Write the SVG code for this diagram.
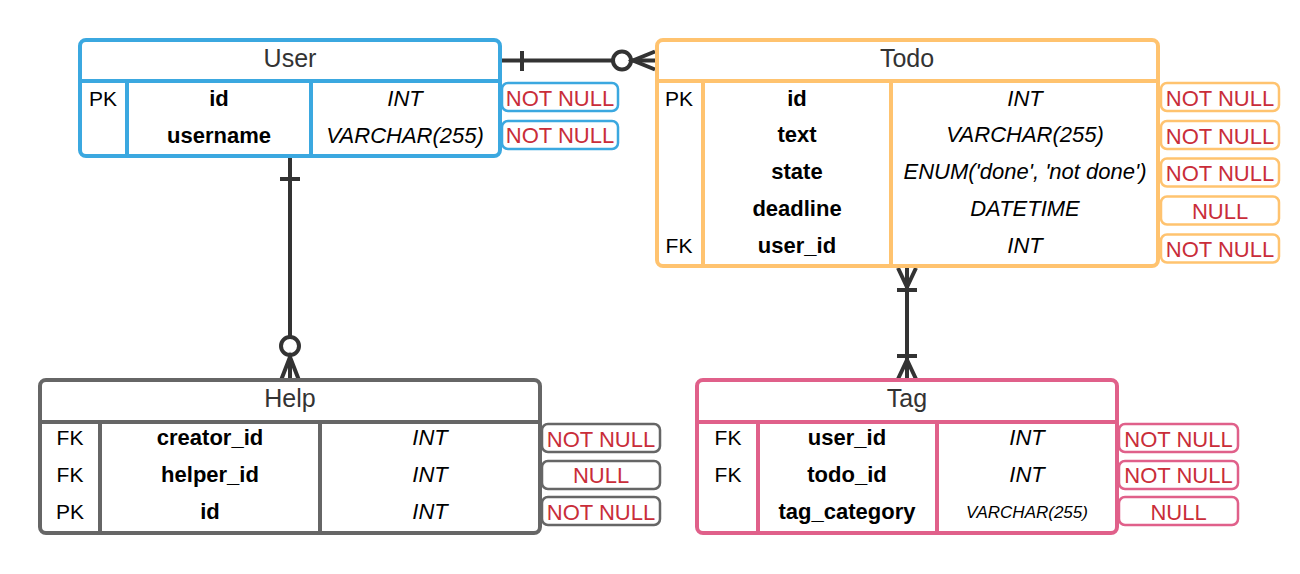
<svg xmlns="http://www.w3.org/2000/svg" width="1300" height="574" viewBox="0 0 1300 574">
<style>
text{font-family:"Liberation Sans",Arial,sans-serif}
.title{font-size:25px;fill:#333;text-anchor:middle}
.key{font-size:21px;fill:#000;text-anchor:middle}
.name{font-size:22px;font-weight:bold;fill:#000;text-anchor:middle}
.type{font-size:22px;font-style:italic;fill:#000;text-anchor:middle}
.small{font-size:17px}
.nn{font-size:22px;fill:#C92D39;text-anchor:middle}
.box{fill:#fff;stroke-width:4}
.div{stroke-width:4;fill:none}
.cbox{fill:#fff;stroke-width:2.5}
.blue{stroke:#3BA8E0}
.orange{stroke:#FFC36F}
.gray{stroke:#666666}
.pink{stroke:#E0608A}
.conn{stroke:#333;stroke-width:4;fill:none}
</style>

<g id="connectors">
  <!-- User - Todo -->
  <line class="conn" x1="502" y1="60.5" x2="656" y2="60.5"/>
  <line class="conn" x1="522" y1="51" x2="522" y2="71"/>
  <circle cx="622" cy="60.5" r="9" fill="#fff" stroke="#333" stroke-width="4"/>
  <path class="conn" d="M655 51.5 L633 60.5 L655 69.5"/>
  <!-- User - Help -->
  <line class="conn" x1="290" y1="157" x2="290" y2="380"/>
  <line class="conn" x1="280" y1="179" x2="300" y2="179"/>
  <circle cx="290" cy="346" r="9" fill="#fff" stroke="#333" stroke-width="4"/>
  <path class="conn" d="M281.5 379 L290 357 L298.5 379"/>
  <!-- Todo - Tag -->
  <line class="conn" x1="907" y1="267" x2="907" y2="380"/>
  <path class="conn" d="M898 268 L907 287 L916 268"/>
  <line class="conn" x1="897" y1="290" x2="917" y2="290"/>
  <line class="conn" x1="897" y1="356" x2="917" y2="356"/>
  <path class="conn" d="M898 379 L907 360 L916 379"/>
</g>

<g id="User">
  <rect class="box blue" x="80" y="40" width="420" height="116" rx="6"/>
  <line class="div blue" x1="80" y1="81" x2="500" y2="81"/>
  <line class="div blue" x1="127" y1="81" x2="127" y2="156"/>
  <line class="div blue" x1="311" y1="81" x2="311" y2="156"/>
  <text class="title" x="290" y="66.5">User</text>
  <text class="key" x="103" y="105.5">PK</text>
  <text class="name" x="219" y="105.5">id</text>
  <text class="type" x="405" y="105.5">INT</text>
  <text class="name" x="219" y="142.5">username</text>
  <text class="type" x="405" y="142.5">VARCHAR(255)</text>
  <rect class="cbox blue" x="502" y="83" width="116" height="28" rx="6"/>
  <text class="nn" x="560" y="106">NOT NULL</text>
  <rect class="cbox blue" x="502" y="121" width="116" height="28" rx="6"/>
  <text class="nn" x="560" y="143">NOT NULL</text>
</g>

<g id="Todo">
  <rect class="box orange" x="657" y="40" width="501" height="226" rx="6"/>
  <line class="div orange" x1="657" y1="81" x2="1158" y2="81"/>
  <line class="div orange" x1="703" y1="81" x2="703" y2="266"/>
  <line class="div orange" x1="891" y1="81" x2="891" y2="266"/>
  <text class="title" x="907" y="66.5">Todo</text>
  <text class="key" x="679" y="105.5">PK</text>
  <text class="name" x="797" y="105.5">id</text>
  <text class="type" x="1025" y="105.5">INT</text>
  <text class="name" x="797" y="142.3">text</text>
  <text class="type" x="1025" y="142.3">VARCHAR(255)</text>
  <text class="name" x="797" y="179.1">state</text>
  <text class="type" x="1025" y="179.1">ENUM('done', 'not done')</text>
  <text class="name" x="797" y="215.9">deadline</text>
  <text class="type" x="1025" y="215.9">DATETIME</text>
  <text class="key" x="679" y="252.7">FK</text>
  <text class="name" x="797" y="252.7">user_id</text>
  <text class="type" x="1025" y="252.7">INT</text>
  <rect class="cbox orange" x="1161" y="83" width="118" height="28" rx="6"/>
  <text class="nn" x="1220" y="106">NOT NULL</text>
  <rect class="cbox orange" x="1161" y="121" width="118" height="28" rx="6"/>
  <text class="nn" x="1220" y="143.5">NOT NULL</text>
  <rect class="cbox orange" x="1161" y="158.5" width="118" height="28" rx="6"/>
  <text class="nn" x="1220" y="181">NOT NULL</text>
  <rect class="cbox orange" x="1161" y="196.5" width="118" height="28" rx="6"/>
  <text class="nn" x="1220" y="218.5">NULL</text>
  <rect class="cbox orange" x="1161" y="234.5" width="118" height="28" rx="6"/>
  <text class="nn" x="1220" y="256.5">NOT NULL</text>
</g>

<g id="Help">
  <rect class="box gray" x="40" y="380" width="500" height="153" rx="6"/>
  <line class="div gray" x1="40" y1="422" x2="540" y2="422"/>
  <line class="div gray" x1="100" y1="422" x2="100" y2="533"/>
  <line class="div gray" x1="320" y1="422" x2="320" y2="533"/>
  <text class="title" x="290" y="406.5">Help</text>
  <text class="key" x="70" y="445">FK</text>
  <text class="name" x="210" y="445">creator_id</text>
  <text class="type" x="430" y="445">INT</text>
  <text class="key" x="70" y="481.8">FK</text>
  <text class="name" x="210" y="481.8">helper_id</text>
  <text class="type" x="430" y="481.8">INT</text>
  <text class="key" x="70" y="519">PK</text>
  <text class="name" x="210" y="519">id</text>
  <text class="type" x="430" y="519">INT</text>
  <rect class="cbox gray" x="542" y="424" width="118" height="28" rx="6"/>
  <text class="nn" x="601" y="446.5">NOT NULL</text>
  <rect class="cbox gray" x="542" y="461" width="118" height="28" rx="6"/>
  <text class="nn" x="601" y="483">NULL</text>
  <rect class="cbox gray" x="542" y="497" width="118" height="28" rx="6"/>
  <text class="nn" x="601" y="519.5">NOT NULL</text>
</g>

<g id="Tag">
  <rect class="box pink" x="697" y="380" width="420" height="153" rx="6"/>
  <line class="div pink" x1="697" y1="422" x2="1117" y2="422"/>
  <line class="div pink" x1="758" y1="422" x2="758" y2="533"/>
  <line class="div pink" x1="937" y1="422" x2="937" y2="533"/>
  <text class="title" x="907" y="406.5">Tag</text>
  <text class="key" x="728" y="445">FK</text>
  <text class="name" x="847" y="445">user_id</text>
  <text class="type" x="1027" y="445">INT</text>
  <text class="key" x="728" y="481.8">FK</text>
  <text class="name" x="847" y="481.8">todo_id</text>
  <text class="type" x="1027" y="481.8">INT</text>
  <text class="name" x="847" y="519">tag_category</text>
  <text class="type small" x="1027" y="518">VARCHAR(255)</text>
  <rect class="cbox pink" x="1119" y="424" width="119" height="28" rx="6"/>
  <text class="nn" x="1178.5" y="446.5">NOT NULL</text>
  <rect class="cbox pink" x="1119" y="461" width="119" height="28" rx="6"/>
  <text class="nn" x="1178.5" y="483">NOT NULL</text>
  <rect class="cbox pink" x="1119" y="497" width="119" height="28" rx="6"/>
  <text class="nn" x="1178.5" y="519.5">NULL</text>
</g>
</svg>
